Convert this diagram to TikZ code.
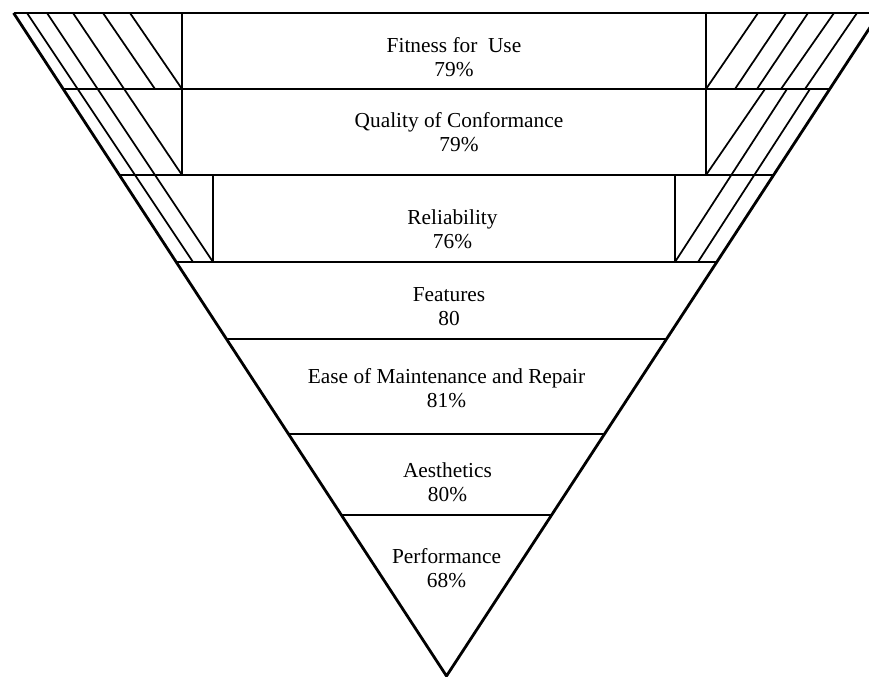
\documentclass[tikz,border=0pt]{standalone}
\usepackage{fontspec}
\setmainfont{Liberation Serif}
\usepackage{tikz}
\usetikzlibrary{calc}
\tikzset{
    outline/.style={line width=2.1pt, line join=miter},
    level/.style={line width=1.5pt},
    divider/.style={line width=1.3pt},
    hatch/.style={line width=1.3pt},
    band/.style={font=\fontsize{16}{18}\selectfont, align=center, inner sep=0pt}
}

\begin{document}
\begin{tikzpicture}[x=0.75pt, y=-0.75pt]

\useasboundingbox (0,0) rectangle (869,676);
\clip (0,0) rectangle (869,676);

\coordinate (apex) at (446.5,676);
\coordinate (topL) at (13.6,13);
\coordinate (topR) at (879.4,13);

% funnel
\draw [level] (topL) -- (topR);
\foreach \y in {89,175,262,339,434,515}
    \draw [level] ($(topL)!{(\y-13)/663}!(apex)$) -- ($(topR)!{(\y-13)/663}!(apex)$);
\draw [outline] (topL) -- (apex) -- (topR);

% inner walls
\draw [divider] (182,13) -- (182,175);
\draw [divider] (213,175) -- (213,262);
\draw [divider] (706,13) -- (706,175);
\draw [divider] (675,175) -- (675,262);

% hatching, left
\foreach \xa/\ya/\xb/\yb in {27/13/193/262, 47/13/213/262, 73/13/182/175, 103/13/155/89, 130/13/182/89}
    \draw [hatch] (\xa,\ya) -- (\xb,\yb);

% hatching, right
\foreach \xa/\ya/\xb/\yb in {758/13/706/89, 786/13/735/89, 808/13/757/89, 834/13/781/89, 857/13/805/89,
                             765/89/706/175, 787/89/675/262, 810/89/698/262}
    \draw [hatch] (\xa,\ya) -- (\xb,\yb);

\node [band] (fitness)  at (454,57.5)   {Fitness for\ \ Use\\79\%};
\node [band] (quality)  at (459,132.5)  {Quality of Conformance\\79\%};
\node [band] (reliab)   at (452.5,229.5) {Reliability\\76\%};
\node [band] (features) at (449,306.5)  {Features\\80};
\node [band] (ease)     at (446.5,388)  {Ease of Maintenance and Repair\\81\%};
\node [band] (aesth)    at (447.5,482.5) {Aesthetics\\80\%};
\node [band] (perform)  at (446.5,568.5) {Performance\\68\%};

\end{tikzpicture}
\end{document}
